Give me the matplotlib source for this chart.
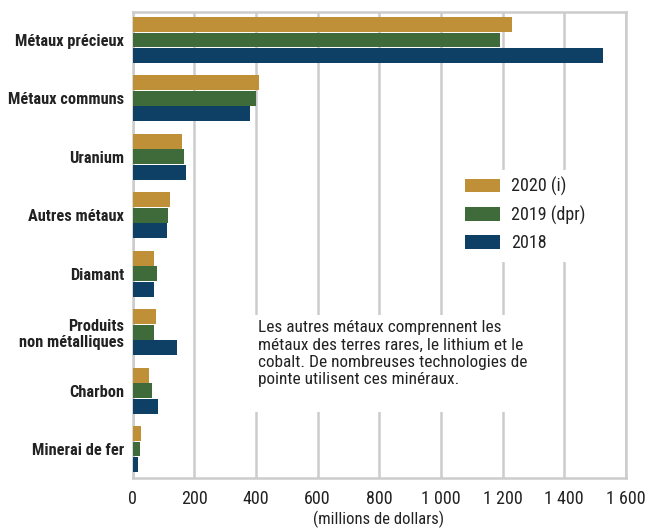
import matplotlib
matplotlib.use("Agg")
import matplotlib.pyplot as plt
from matplotlib.patches import Rectangle
import numpy as np

plt.rcParams['font.family'] = ['Roboto Condensed', 'DejaVu Sans']

categories = ["Métaux précieux", "Métaux communs", "Uranium", "Autres métaux",
              "Diamant", "Produits\nnon métalliques", "Charbon", "Minerai de fer"]
v2020 = [1230, 409, 162, 123, 71, 75, 52, 29]
v2019 = [1192, 402, 166, 114, 78, 71, 62, 23]
v2018 = [1526, 380, 172, 111, 71, 143, 82, 19]
series_labels = ["2020 (i)", "2019 (dpr)", "2018"]
colors = ["#C09038", "#3F6B3A", "#0E4066"]
xticks = [0, 200, 400, 600, 800, 1000, 1200, 1400, 1600]
xticklabels = ["0", "200", "400", "600", "800", "1 000", "1 200", "1 400", "1 600"]
note = ("Les autres métaux comprennent les\nmétaux des terres rares, le lithium et le\n"
        "cobalt. De nombreuses technologies de\npointe utilisent ces minéraux.")

W, H = 645, 528
fig = plt.figure(figsize=(W / 100, H / 100), dpi=100)
fig.patch.set_facecolor("white")

def fx(px):
    return px / W

def fy(py):
    return 1 - py / H

ax = fig.add_axes([fx(132.5), fy(478), fx(626) - fx(132.5), fy(12) - fy(478)])

y = np.arange(len(categories))
h = 0.255
off = 0.265
for vals, c, lab, o in zip([v2020, v2019, v2018], colors, series_labels, [-off, 0, off]):
    ax.barh(y + o, vals, height=h, color=c, label=lab, zorder=3)

ax.set_xlim(0, 1600)
ax.set_ylim(7.496, -0.479)
ax.set_xticks(xticks)
ax.set_xticklabels(xticklabels, fontsize=13, color="#222222")
ax.set_yticks(y)
ax.set_yticklabels(categories, fontsize=11.8, fontweight="bold", color="#222222",
                   linespacing=1.15)
ax.tick_params(axis="both", length=0)
ax.tick_params(axis="x", pad=9)
ax.tick_params(axis="y", pad=6)
ax.xaxis.grid(True, color="#cccccc", linewidth=1.8, zorder=0)
ax.set_axisbelow(True)
for s in ax.spines.values():
    s.set_color("#cccccc")
    s.set_linewidth(1.8)
    s.set_zorder(0.5)

# white boxes behind legend and note
ax.add_patch(Rectangle((fx(450), fy(262)), fx(610) - fx(450), fy(170) - fy(262),
                       transform=fig.transFigure, facecolor="white", edgecolor="none",
                       zorder=1, clip_on=False))
ax.add_patch(Rectangle((fx(248), fy(412)), fx(545) - fx(248), fy(315) - fy(412),
                       transform=fig.transFigure, facecolor="white", edgecolor="none",
                       zorder=1, clip_on=False))

leg = ax.legend(loc="upper left", bbox_to_anchor=(fx(465), fy(177)),
                bbox_transform=fig.transFigure, frameon=False, fontsize=13,
                handlelength=1.95, handleheight=0.78, labelspacing=0.52,
                handletextpad=0.62, borderpad=0, borderaxespad=0)
for t in leg.get_texts():
    t.set_color("#222222")
leg.set_zorder(5)

fig.text(fx(258), fy(320), note, fontsize=12.4, color="#222222", va="top", ha="left",
         linespacing=1.2, zorder=5)

fig.text(fx(379), fy(519), "(millions de dollars)", fontsize=12, color="#222222",
         ha="center", va="center")

fig.savefig("out.png", dpi=100, facecolor="white")
